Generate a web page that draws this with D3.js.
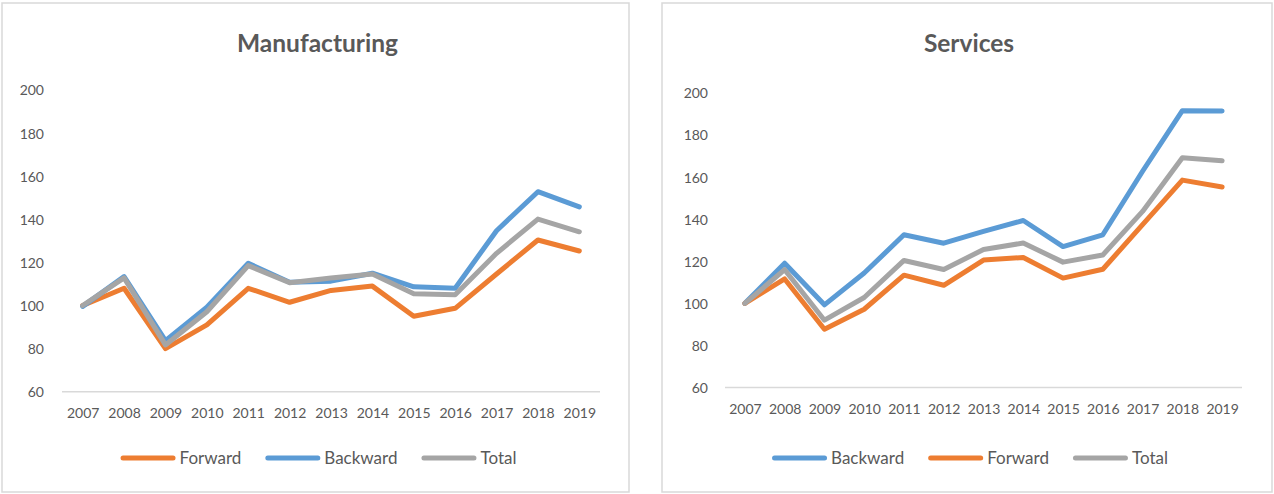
<!DOCTYPE html>
<html>
<head>
<meta charset="utf-8">
<script src="https://cdn.jsdelivr.net/npm/d3@7"></script>
<style>
  html, body { margin: 0; padding: 0; background: #fff; }
  svg { display: block; }
  text { font-family: Lato, "Open Sans", sans-serif; fill: #595959; }
</style>
</head>
<body>
<svg id="chart" width="1274" height="494"></svg>
<script>
// ---------- data ----------
const years = ["2007","2008","2009","2010","2011","2012","2013","2014","2015","2016","2017","2018","2019"];
const yTicks = [60, 80, 100, 120, 140, 160, 180, 200];

const mfgForward  = [100, 108, 80, 91, 108, 101.5, 107, 109, 95, 98.7, 114.6, 130.4, 125.3];
const mfgBackward = [99.6, 113.4, 83.7, 99.2, 119.6, 110.8, 111.3, 115, 108.7, 108, 134.7, 152.8, 145.8];
const mfgTotal    = [100, 112.8, 81.7, 97.1, 118.5, 110.6, 112.8, 114.6, 105.5, 105, 124.2, 140.1, 134.2];

const srvBackward = [100, 119.1, 99.3, 114.4, 132.6, 128.6, 134.2, 139.4, 127, 132.6, 162.8, 191.6, 191.4];
const srvForward  = [100, 111.6, 87.7, 97.2, 113.4, 108.6, 120.6, 121.8, 112, 116.2, 137.4, 158.6, 155.3];
const srvTotal    = [100, 116, 92, 102.8, 120.4, 116.1, 125.6, 128.7, 119.6, 123, 143.7, 169.2, 167.8];

const colors = { Forward: "#ED7D31", Backward: "#5B9BD5", Total: "#A5A5A5" };

const panels = [
  { title: "Manufacturing",
    frame: [2, 3, 629, 492],
    xRange: [62, 600], yRange: [391.7, 90],
    yLabelX: 44, xLabelY: 413,
    series: [["Forward", mfgForward], ["Backward", mfgBackward], ["Total", mfgTotal]] },
  { title: "Services",
    frame: [662, 3, 1272, 492],
    xRange: [725, 1242], yRange: [387.5, 93],
    yLabelX: 708, xLabelY: 409,
    series: [["Backward", srvBackward], ["Forward", srvForward], ["Total", srvTotal]] }
];

const svg = d3.select("#chart");

panels.forEach(p => {
  const g = svg.append("g");
  const [fx1, fy1, fx2, fy2] = p.frame;
  g.append("rect")
    .attr("x", fx1).attr("y", fy1)
    .attr("width", fx2 - fx1).attr("height", fy2 - fy1)
    .attr("fill", "#fff").attr("stroke", "#D9D9D9").attr("stroke-width", 1.5);

  const cx = (fx1 + fx2) / 2 + 2;

  g.append("text")
    .attr("x", cx).attr("y", 52)
    .attr("text-anchor", "middle")
    .style("font-size", "24.5px").style("font-weight", "bold")
    .text(p.title);

  const x = d3.scalePoint().domain(years).range(p.xRange).padding(0.5);
  const y = d3.scaleLinear().domain([60, 200]).range(p.yRange);

  // baseline
  g.append("line")
    .attr("x1", p.xRange[0]).attr("x2", p.xRange[1])
    .attr("y1", y(60)).attr("y2", y(60))
    .attr("stroke", "#D9D9D9").attr("stroke-width", 1.5);

  // y axis labels
  const ya = g.append("g")
    .attr("transform", `translate(${p.yLabelX + 0},0)`)
    .call(d3.axisLeft(y).tickValues(yTicks).tickSize(0).tickPadding(0));
  ya.select(".domain").remove();
  ya.selectAll("text").style("font-size", "14px").attr("fill", "#595959")
    .attr("dy", "0.35em");

  // x axis labels
  const xa = g.append("g")
    .attr("transform", `translate(0,${p.xLabelY})`)
    .call(d3.axisBottom(x).tickSize(0).tickPadding(0));
  xa.select(".domain").remove();
  xa.selectAll("text").style("font-size", "14px").attr("fill", "#595959")
    .attr("dy", "0.35em");

  const line = d3.line().x((d, i) => x(years[i])).y(d => y(d));
  p.series.forEach(([name, vals]) => {
    g.append("path")
      .datum(vals)
      .attr("d", line)
      .attr("fill", "none")
      .attr("stroke", colors[name])
      .attr("stroke-width", 5)
      .attr("stroke-linejoin", "round")
      .attr("stroke-linecap", "round");
  });

  // legend
  const lg = g.append("g");
  let pos = 0;
  const lineLen = 55, gapText = 4, gapItem = 24;
  p.series.forEach(([name], i) => {
    const it = lg.append("g").attr("transform", `translate(${pos},0)`);
    it.append("line")
      .attr("x1", 2.5).attr("x2", lineLen - 2.5)
      .attr("y1", 0).attr("y2", 0)
      .attr("stroke", colors[name]).attr("stroke-width", 5)
      .attr("stroke-linecap", "round");
    const t = it.append("text")
      .attr("x", lineLen + gapText).attr("y", 0).attr("dy", "0.35em")
      .style("font-size", "17px")
      .text(name);
    const w = t.node().getComputedTextLength();
    pos += lineLen + gapText + w + (i < p.series.length - 1 ? gapItem : 0);
  });
  lg.attr("transform", `translate(${cx + 1 - pos / 2},458)`);
});
</script>
</body>
</html>
